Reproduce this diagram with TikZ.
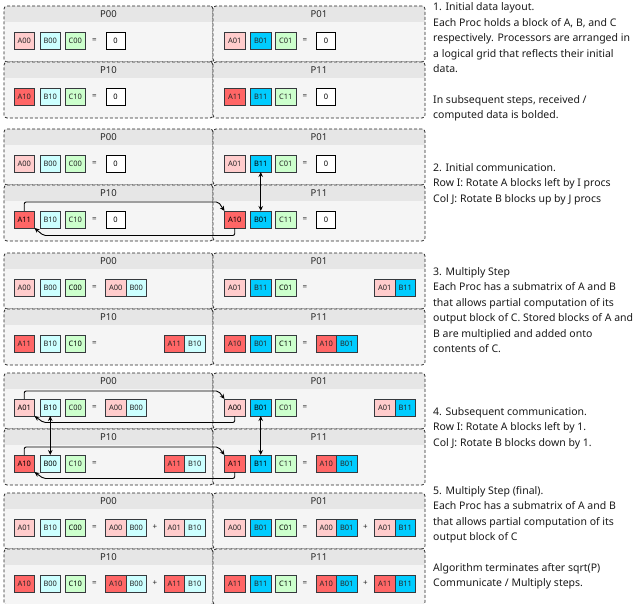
\documentclass[tikz,border=0pt]{standalone}
\usepackage{fontspec}
\setmainfont{Noto Sans}
\usetikzlibrary{arrows.meta}
\definecolor{al}{HTML}{FFCCCC}
\definecolor{ad}{HTML}{FF6666}
\definecolor{bl}{HTML}{CCFFFF}
\definecolor{bd}{HTML}{00CCFF}
\definecolor{cl}{HTML}{CCFFCC}
\definecolor{bord}{HTML}{36393D}
\definecolor{pbg}{HTML}{F5F5F5}
\definecolor{phd}{HTML}{E6E6E6}
\tikzset{
 blk/.style={draw=bord, line width=0.9pt, minimum width=20.5pt, minimum height=17pt, inner sep=0pt, outer sep=0pt, anchor=north west, font=\fontsize{7.5}{9}\selectfont, text=black!85},
 Al/.style={fill=al}, Ad/.style={fill=ad}, Bl/.style={fill=bl}, Bd/.style={fill=bd}, Cc/.style={fill=cl},
 rc/.style={font=\fontsize{7.5}{9}\selectfont\bfseries, text=black},
 zero/.style={draw=black, fill=white, line width=0.9pt, minimum width=19pt, minimum height=17pt, inner sep=0pt, outer sep=0pt, anchor=north west, font=\fontsize{7.5}{9}\selectfont},
 sym/.style={inner sep=0pt, font=\fontsize{8}{9}\selectfont, text=black!85},
 pframe/.style={draw=black!85, dash pattern=on 3pt off 2pt, line width=0.8pt, rounded corners=3pt, minimum height=56pt, inner sep=0pt, outer sep=0pt, anchor=north west},
 ptitle/.style={inner sep=0pt, font=\fontsize{9.5}{11}\selectfont, text=black!85},
 note/.style={anchor=west, align=left, inner sep=0pt, font=\fontsize{10.5}{15.4}\selectfont, text=black!90},
 arr/.style={-{Stealth[length=5pt,width=4.5pt]}, line width=0.9pt, rounded corners=2pt},
 darr/.style={{Stealth[length=5pt,width=4.5pt]}-{Stealth[length=5pt,width=4.5pt]}, line width=1.2pt},
}
\newcommand\panel[4]{%
 \fill[pbg, rounded corners=3pt] (#2,0) rectangle ++(#3,56);
 \begin{scope}
  \clip[rounded corners=3pt] (#2,0) rectangle ++(#3,56);
  \fill[phd] (#2,0) rectangle ++(#3,16);
 \end{scope}
 \node[pframe, minimum width=#3] (#1) at (#2,0) {};
 \node[ptitle] (#1t) at ([yshift=-8.5pt]#1.north) {#4};
}
\newcommand\proc[7]{%
 \node[blk,#2] (#1a) at (10,26) {#3};
 \node[blk,#4] (#1b) at (36,26) {#5};
 \node[blk,Cc,#6] (#1c) at (61,26) {#7};
 \node[sym] (#1e) at (90.5,34.5) {=};
}
\newcommand\pair[6]{%
 \node[blk,#3] (#1a) at (#2,26) {#4};
 \node[blk,#5] (#1b) at (#1a.north east) {#6};
}
\newcommand\zerobox[1]{\node[zero] (#1) at (102,26) {0};}
\newcommand\plusnode[1]{\node[sym] (#1) at (151,34.5) {+};}
\begin{document}
\begin{tikzpicture}[x=1pt,y=-1pt]
\useasboundingbox (0,0) rectangle (635,603);
\clip (0,0) rectangle (635,603);
% ---------------- Section 1
\begin{scope}[shift={(4,6)}]
 \panel{s1p00}{0}{209}{P00}
 \proc{s1p00}{Al}{A00}{Bl}{B00}{}{C00}
 \zerobox{s1p00r}
\end{scope}
\begin{scope}[shift={(214.5,6)}]
 \panel{s1p01}{-1.5}{212}{P01}
 \proc{s1p01}{Al}{A01}{Bd}{B01}{}{C01}
 \zerobox{s1p01r}
\end{scope}
\begin{scope}[shift={(4,62)}]
 \panel{s1p10}{0}{209}{P10}
 \proc{s1p10}{Ad}{A10}{Bl}{B10}{}{C10}
 \zerobox{s1p10r}
\end{scope}
\begin{scope}[shift={(214.5,62)}]
 \panel{s1p11}{-1.5}{212}{P11}
 \proc{s1p11}{Ad}{A11}{Bd}{B11}{}{C11}
 \zerobox{s1p11r}
\end{scope}
% ---------------- Section 2
\begin{scope}[shift={(4,129)}]
 \panel{s2p00}{0}{209}{P00}
 \proc{s2p00}{Al}{A00}{Bl}{B00}{}{C00}
 \zerobox{s2p00r}
\end{scope}
\begin{scope}[shift={(214.5,129)}]
 \panel{s2p01}{-1.5}{212}{P01}
 \proc{s2p01}{Al}{A01}{Bd,rc}{B11}{}{C01}
 \zerobox{s2p01r}
\end{scope}
\begin{scope}[shift={(4,185)}]
 \panel{s2p10}{0}{209}{P10}
 \proc{s2p10}{Ad,rc}{A11}{Bl}{B10}{}{C10}
 \zerobox{s2p10r}
\end{scope}
\begin{scope}[shift={(214.5,185)}]
 \panel{s2p11}{-1.5}{212}{P11}
 \proc{s2p11}{Ad,rc}{A10}{Bd,rc}{B01}{}{C11}
 \zerobox{s2p11r}
\end{scope}
\draw[arr] (s2p10a.north) |- ([xshift=-6pt,yshift=9pt]s2p11a.north west) -- (s2p11a.north west);
\draw[arr] (s2p11a.south) |- ([xshift=9pt,yshift=-7.5pt]s2p10a.south east) -- (s2p10a.south east);
\draw[darr] (s2p01b.south) -- (s2p11b.north);
% ---------------- Section 3
\begin{scope}[shift={(4,253)}]
 \panel{s3p00}{0}{209}{P00}
 \proc{s3p00}{Al}{A00}{Bl}{B00}{rc}{C00}
 \pair{s3p00r}{101.5}{Al}{A00}{Bl}{B00}
\end{scope}
\begin{scope}[shift={(214.5,253)}]
 \panel{s3p01}{-1.5}{212}{P01}
 \proc{s3p01}{Al}{A01}{Bd}{B11}{rc}{C01}
 \pair{s3p01r}{160}{Al}{A01}{Bd}{B11}
\end{scope}
\begin{scope}[shift={(4,309)}]
 \panel{s3p10}{0}{209}{P10}
 \proc{s3p10}{Ad}{A11}{Bl}{B10}{rc}{C10}
 \pair{s3p10r}{160}{Ad}{A11}{Bl}{B10}
\end{scope}
\begin{scope}[shift={(214.5,309)}]
 \panel{s3p11}{-1.5}{212}{P11}
 \proc{s3p11}{Ad}{A10}{Bd}{B01}{rc}{C11}
 \pair{s3p11r}{101.5}{Ad}{A10}{Bd}{B01}
\end{scope}
% ---------------- Section 4
\begin{scope}[shift={(4,373)}]
 \panel{s4p00}{0}{209}{P00}
 \proc{s4p00}{Al,rc}{A01}{Bl,rc}{B10}{}{C00}
 \pair{s4p00r}{101.5}{Al}{A00}{Bl}{B00}
\end{scope}
\begin{scope}[shift={(214.5,373)}]
 \panel{s4p01}{-1.5}{212}{P01}
 \proc{s4p01}{Al,rc}{A00}{Bd,rc}{B01}{}{C01}
 \pair{s4p01r}{160}{Al}{A01}{Bd}{B11}
\end{scope}
\begin{scope}[shift={(4,429)}]
 \panel{s4p10}{0}{209}{P10}
 \proc{s4p10}{Ad,rc}{A10}{Bl,rc}{B00}{}{C10}
 \pair{s4p10r}{160}{Ad}{A11}{Bl}{B10}
\end{scope}
\begin{scope}[shift={(214.5,429)}]
 \panel{s4p11}{-1.5}{212}{P11}
 \proc{s4p11}{Ad,rc}{A11}{Bd,rc}{B11}{}{C11}
 \pair{s4p11r}{101.5}{Ad}{A10}{Bd}{B01}
\end{scope}
\draw[arr] (s4p00a.north) |- ([xshift=-6pt,yshift=8pt]s4p01a.north west) -- (s4p01a.north west);
\draw[arr] (s4p01a.south) |- ([xshift=9pt,yshift=-6.5pt]s4p00a.south east) -- (s4p00a.south east);
\draw[arr] (s4p10a.north) |- ([xshift=-6pt,yshift=8pt]s4p11a.north west) -- (s4p11a.north west);
\draw[arr] (s4p11a.south) |- ([xshift=9pt,yshift=-6.5pt]s4p10a.south east) -- (s4p10a.south east);
\draw[darr] (s4p00b.south) -- (s4p10b.north);
\draw[darr] (s4p01b.south) -- (s4p11b.north);
% ---------------- Section 5
\begin{scope}[shift={(4,493)}]
 \panel{s5p00}{0}{209}{P00}
 \proc{s5p00}{Al}{A01}{Bl}{B10}{rc}{C00}
 \pair{s5p00r}{101.5}{Al}{A00}{Bl}{B00}
 \plusnode{s5p00p}
 \pair{s5p00s}{160}{Al}{A01}{Bl}{B10}
\end{scope}
\begin{scope}[shift={(214.5,493)}]
 \panel{s5p01}{-1.5}{212}{P01}
 \proc{s5p01}{Al}{A00}{Bd}{B01}{rc}{C01}
 \pair{s5p01r}{101.5}{Al}{A00}{Bd}{B01}
 \plusnode{s5p01p}
 \pair{s5p01s}{160}{Al}{A01}{Bd}{B11}
\end{scope}
\begin{scope}[shift={(4,549)}]
 \panel{s5p10}{0}{209}{P10}
 \proc{s5p10}{Ad}{A10}{Bl}{B00}{rc}{C10}
 \pair{s5p10r}{101.5}{Ad}{A10}{Bl}{B00}
 \plusnode{s5p10p}
 \pair{s5p10s}{160}{Ad}{A11}{Bl}{B10}
\end{scope}
\begin{scope}[shift={(214.5,549)}]
 \panel{s5p11}{-1.5}{212}{P11}
 \proc{s5p11}{Ad}{A11}{Bd}{B11}{rc}{C11}
 \pair{s5p11r}{101.5}{Ad}{A10}{Bd}{B01}
 \plusnode{s5p11p}
 \pair{s5p11s}{160}{Ad}{A11}{Bd}{B11}
\end{scope}
% ---------------- Notes
\node[note] (t1) at (433,62) {1. Initial data layout.\\Each Proc holds a block of A, B, and C\\respectively. Processors are arranged in\\a logical grid that reflects their initial\\data.\\[15.4pt]In subsequent steps, received /\\computed data is bolded.};
\node[note] (t2) at (433,184) {2. Initial communication.\\Row I: Rotate A blocks left by I procs\\Col J: Rotate B blocks up by J procs};
\node[note] (t3) at (433,310) {3. Multiply Step\\Each Proc has a submatrix of A and B\\that allows partial computation of its\\output block of C. Stored blocks of A and\\B are multiplied and added onto\\contents of C.};
\node[note] (t4) at (433,428) {4. Subsequent communication.\\Row I: Rotate A blocks left by 1.\\Col J: Rotate B blocks down by 1.};
\node[note] (t5) at (433,538) {5. Multiply Step (final).\\Each Proc has a submatrix of A and B\\that allows partial computation of its\\output block of C\\[15.4pt]Algorithm terminates after sqrt(P)\\Communicate / Multiply steps.};
\end{tikzpicture}
\end{document}
